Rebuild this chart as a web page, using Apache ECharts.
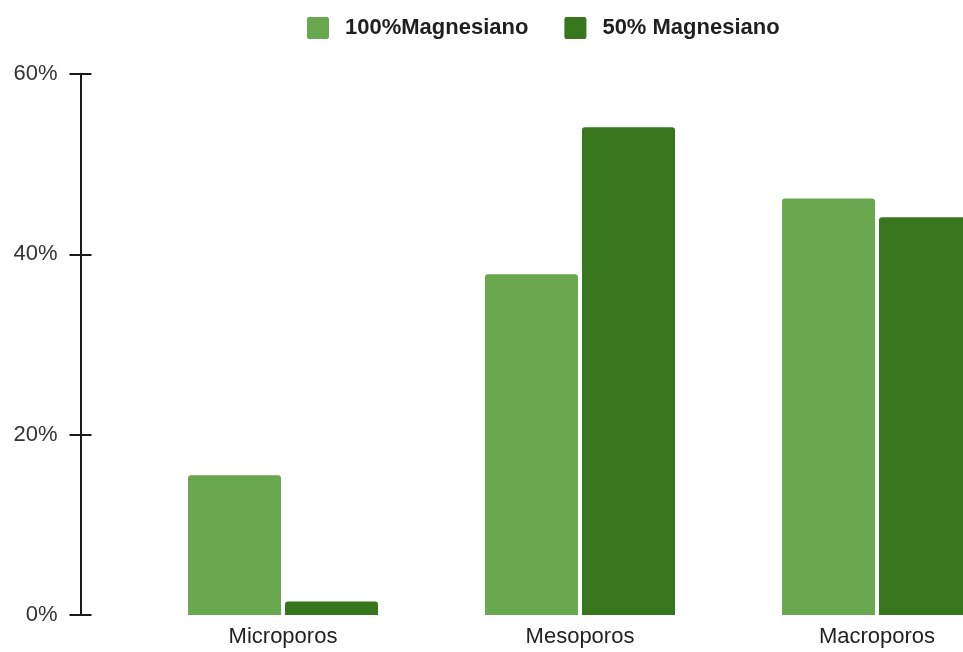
<!DOCTYPE html>
<html>
<head>
<meta charset="utf-8">
<script src="https://cdn.jsdelivr.net/npm/echarts@6/dist/echarts.min.js"></script>
<style>
  html, body { margin: 0; padding: 0; background: #fff; }
  #chart { width: 963px; height: 652px; }
</style>
</head>
<body>
<div id="chart"></div>
<script>
// Pore-size distribution by magnesian content
const categories = ['Microporos', 'Mesoporos', 'Macroporos'];
const seriesNames = ['100%Magnesiano', '50% Magnesiano'];
const magnesiano100 = [15.5, 37.8, 46.2];
const magnesiano50 = [1.5, 54.1, 44.1];
const yTicks = [0, 20, 40, 60];

const FONT = 'Liberation Sans, Arial, sans-serif';
const colors = ['#6aa84f', '#38761d'];

const chart = echarts.init(document.getElementById('chart'));

const axisLineStyle = { color: '#1a1a1a', width: 2 };

chart.setOption({
  animation: false,
  color: colors,
  legend: {
    data: seriesNames,
    left: 307,
    top: 17,
    padding: 0,
    itemWidth: 22,
    itemHeight: 22,
    itemGap: 36,
    icon: 'path://M2,0 L20,0 Q22,0 22,2 L22,20 Q22,22 20,22 L2,22 Q0,22 0,20 L0,2 Q0,0 2,0 Z',
    textStyle: {
      fontFamily: FONT,
      fontSize: 22,
      fontWeight: 'bold',
      color: '#1f1f1f',
      padding: [2, 0, 0, 11]
    }
  },
  grid: {
    left: 134.5,
    right: -62.5,
    top: 74,
    bottom: 37,
    containLabel: false,
    outerBoundsMode: 'none'
  },
  xAxis: {
    type: 'category',
    data: categories,
    axisLine: { show: false },
    axisTick: { show: false },
    splitLine: { show: false },
    axisLabel: {
      margin: 11,
      fontFamily: FONT,
      fontSize: 22,
      color: '#222'
    }
  },
  yAxis: [
    {
      type: 'value',
      min: yTicks[0],
      max: yTicks[yTicks.length - 1],
      interval: 20,
      offset: 54,
      axisLine: { show: true, lineStyle: axisLineStyle },
      axisTick: { show: true, length: 11, lineStyle: axisLineStyle },
      splitLine: { show: false },
      axisLabel: {
        margin: 23,
        formatter: '{value}%',
        fontFamily: FONT,
        fontSize: 22,
        color: '#333'
      }
    },
    {
      type: 'value',
      position: 'left',
      min: yTicks[0],
      max: yTicks[yTicks.length - 1],
      interval: 20,
      offset: 54,
      axisLine: { show: false },
      axisTick: { show: true, inside: true, length: 11, lineStyle: axisLineStyle },
      splitLine: { show: false },
      axisLabel: { show: false }
    }
  ],
  series: [
    {
      name: seriesNames[0],
      type: 'bar',
      data: magnesiano100,
      barWidth: 93,
      barGap: '4.3%',
      itemStyle: { borderRadius: [3, 3, 0, 0] }
    },
    {
      name: seriesNames[1],
      type: 'bar',
      data: magnesiano50,
      barWidth: 93,
      barGap: '4.3%',
      itemStyle: { borderRadius: [3, 3, 0, 0] }
    }
  ]
});
</script>
</body>
</html>
